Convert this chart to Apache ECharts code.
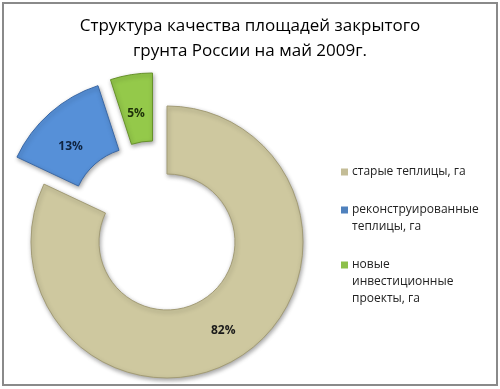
<!DOCTYPE html>
<html>
<head>
<meta charset="utf-8">
<script src="https://cdn.jsdelivr.net/npm/echarts@6/dist/echarts.min.js"></script>
<style>html,body{margin:0;padding:0;background:#fff}#c{width:500px;height:389px}</style>
</head>
<body>
<div id="c"></div>
<script>
const titleText = 'Структура качества площадей закрытого\nгрунта России на май 2009г.';
const categories = ['старые теплицы, га', 'реконструированные теплицы, га', 'новые инвестиционные проекты, га'];
const legendLines = [['старые теплицы, га'], ['реконструированные', 'теплицы, га'], ['новые', 'инвестиционные', 'проекты, га']];
const shares = [82, 13, 5];

const sliceColors = ['#CEC89F', '#5690D8', '#94C94A'];
const edgeColors = ['#a39c76', '#3a68a6', '#67922a'];
const labelColors = ['#1a1a1a', '#0f2440', '#1e300a'];
const legendColors = ['#C4BD97', '#4F81BD', '#8DC04A'];
// exploded slice centres
const centers = [[167, 242], [140, 215], [152.5, 209]];
// label line heights; a leading blank line nudges the label downward by half of it
const labelShift = [0, 20, 16];

const chart = echarts.init(document.getElementById('c'), null, {renderer: 'canvas'});

const series = categories.map((cat, i) => ({
  type: 'pie',
  center: centers[i],
  radius: [68, 136],
  startAngle: 90,
  clockwise: true,
  silent: true,
  avoidLabelOverlap: false,
  emphasis: {disabled: true},
  labelLine: {show: false},
  data: categories.map((n, j) => ({
    name: n,
    value: shares[j],
    itemStyle: j === i ? {
      color: sliceColors[j], borderColor: edgeColors[j], borderWidth: 1,
      shadowBlur: 4, shadowColor: 'rgba(0,0,0,0.35)', shadowOffsetX: 1, shadowOffsetY: 2
    } : {color: 'rgba(0,0,0,0)', borderWidth: 0, shadowBlur: 0},
    label: j === i ? {
      show: true, position: 'inside',
      formatter: (labelShift[j] ? '\n' : '') + '{c}%',
      lineHeight: labelShift[j] || 16,
      fontFamily: 'Open Sans', fontWeight: 'bold', fontSize: 12, color: labelColors[j]
    } : {show: false}
  }))
}));

const rich = {
  t: {fontFamily: 'Open Sans', fontSize: 12, lineHeight: 17, color: '#222', padding: [0, 0, 0, 4]},
  t2: {fontFamily: 'Open Sans', fontSize: 12, lineHeight: 17, color: '#222', padding: [0, 0, 0, 11]}
};
legendColors.forEach((c, i) => { rich['sq' + i] = {width: 7, height: 7, backgroundColor: c}; });

chart.setOption({
  animation: false,
  backgroundColor: '#fff',
  title: {
    text: titleText,
    left: 'center',
    top: 14,
    padding: 0,
    textStyle: {fontFamily: 'Open Sans', fontSize: 17, fontWeight: 'normal', lineHeight: 25, color: '#000'}
  },
  legend: {
    orient: 'vertical',
    left: 336,
    top: 166,
    padding: 0,
    itemGap: 26,
    icon: 'none',
    itemWidth: 0,
    itemHeight: 0,
    selectedMode: false,
    data: categories.map(n => ({name: n})),
    formatter: name => {
      const idx = categories.indexOf(name);
      return legendLines[idx].map((l, k) => k === 0 ? '{sq' + idx + '|}{t|' + l + '}' : '{t2|' + l + '}').join('\n');
    },
    textStyle: {rich: rich}
  },
  graphic: [{
    type: 'rect', silent: true, z: 10,
    shape: {x: 3, y: 3, width: 494, height: 382},
    style: {fill: 'none', stroke: '#8a8a8a', lineWidth: 2}
  }],
  series: series
});
</script>
</body>
</html>
